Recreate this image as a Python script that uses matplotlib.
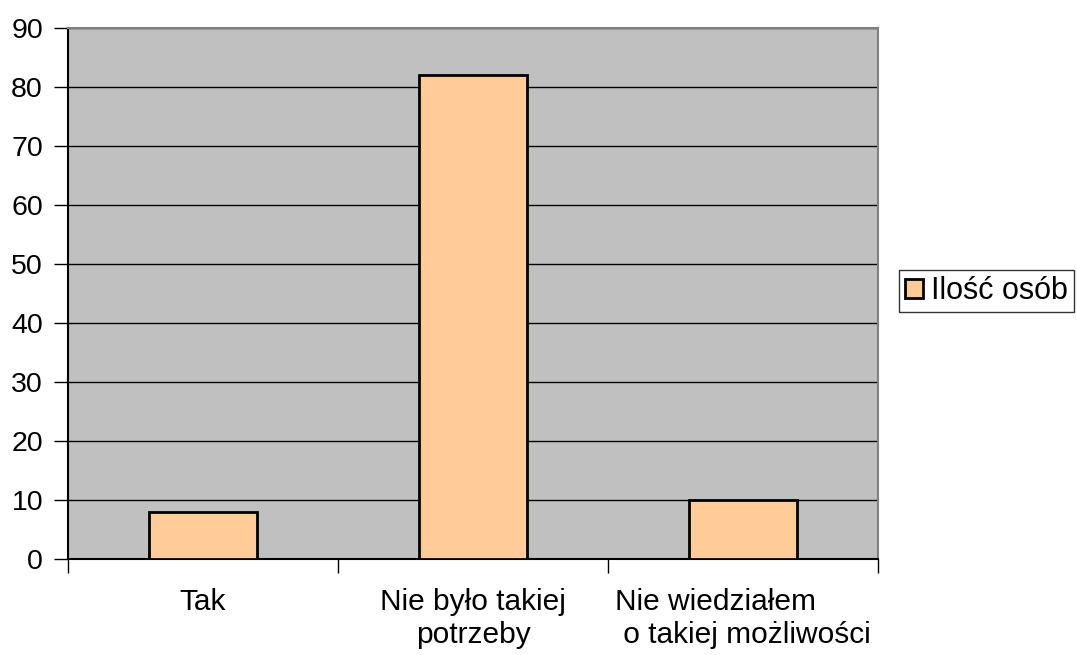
import numpy as np
import matplotlib.pyplot as plt
from matplotlib.ticker import FixedLocator

plt.rcParams['font.family'] = ['Liberation Sans', 'DejaVu Sans']

categories = ['Tak', 'Nie było takiej\npotrzeby', 'Nie wiedziałem\n o takiej możliwości']
values = [8, 82, 10]
series_name = 'Ilość osób'

fig = plt.figure(figsize=(10.77, 6.55), dpi=100)
ax = fig.add_axes([68 / 1077, 96 / 655, 810 / 1077, 531 / 655])
ax.set_facecolor('#C0C0C0')

x = np.arange(len(categories))
ax.bar(x, values, width=0.4, color='#FFCC99', edgecolor='black', linewidth=2,
       label=series_name, zorder=3)

ax.set_xlim(-0.5, len(categories) - 0.5)
ax.set_ylim(0, 90)
ax.set_yticks(range(0, 91, 10))
ax.yaxis.grid(True, color='black', linewidth=1, zorder=1)

# ticks at category boundaries, labels at centres
ax.xaxis.set_major_locator(FixedLocator(np.arange(-0.5, len(categories), 1.0)))
ax.set_xticklabels([])
ax.xaxis.set_minor_locator(FixedLocator(x))
ax.set_xticklabels(categories, minor=True)
ax.tick_params(axis='x', which='major', length=10, width=1, color='black', direction='out')
ax.tick_params(axis='x', which='minor', length=0, pad=21, labelsize=21.5)
ax.tick_params(axis='y', length=10, width=1, pad=8, labelsize=20.5)
for lab in ax.get_xticklabels(minor=True):
    lab.set_multialignment('left' if 'wiedzia' in lab.get_text() else 'center')

ax.spines['left'].set_color('black')
ax.spines['bottom'].set_color('black')
ax.spines['top'].set_color('#808080')
ax.spines['right'].set_color('#808080')
for s in ax.spines.values():
    s.set_linewidth(1.5)

leg = fig.legend(loc='center left', bbox_to_anchor=(899 / 1077, 1 - 291 / 655),
                 fontsize=22, frameon=True, fancybox=False, edgecolor='black',
                 handlelength=0.6, handleheight=0.6, handletextpad=0.25,
                 borderpad=0.2, borderaxespad=0)
leg.get_frame().set_linewidth(1)

fig.savefig('out.png', dpi=100, facecolor='white')
